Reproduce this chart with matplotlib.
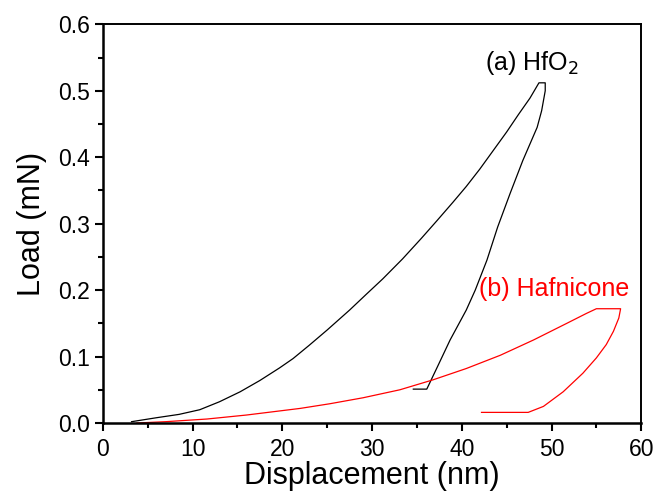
import numpy as np
import matplotlib
matplotlib.use('Agg')
import matplotlib.pyplot as plt
from matplotlib.ticker import MultipleLocator, FormatStrFormatter

plt.rcParams['font.family'] = ['Liberation Sans', 'DejaVu Sans']

# (a) HfO2 load-unload curve, displacement (nm) vs load (mN)
hfo2_x = [3.2, 6.0, 8.5, 10.8, 13.0, 15.3, 17.5, 19.7, 21.2, 23.0, 25.0, 27.5, 29.3,
          31.2, 33.4, 35.5, 37.2, 39.0, 40.5, 42.0, 43.5, 45.0, 46.3, 47.6, 48.6, 49.3,
          49.3, 48.9, 48.4, 47.6, 46.8, 45.4, 44.0, 42.8, 41.5, 40.5, 38.7, 37.3, 36.1, 34.6]
hfo2_y = [0.002, 0.008, 0.013, 0.020, 0.032, 0.047, 0.064, 0.083, 0.097, 0.117, 0.140, 0.170, 0.193,
          0.217, 0.247, 0.278, 0.304, 0.332, 0.356, 0.382, 0.410, 0.438, 0.464, 0.489, 0.512, 0.512,
          0.500, 0.470, 0.445, 0.420, 0.395, 0.346, 0.295, 0.245, 0.200, 0.170, 0.125, 0.085, 0.051, 0.051]

# (b) Hafnicone load-unload curve
hafn_x = [3.8, 7.0, 11.6, 16.0, 22.0, 25.3, 29.0, 33.1, 36.8, 40.5, 44.3, 48.0, 51.7, 53.9, 55.0, 57.7,
          57.5, 56.9, 56.1, 55.0, 53.5, 51.3, 49.1, 47.4, 42.2]
hafn_y = [0.000, 0.002, 0.006, 0.012, 0.022, 0.029, 0.038, 0.050, 0.065, 0.082, 0.102, 0.125, 0.150, 0.165, 0.172, 0.172,
          0.158, 0.138, 0.118, 0.098, 0.075, 0.047, 0.025, 0.016, 0.016]

fig = plt.figure(figsize=(6.55, 4.94), dpi=100)
ax = fig.add_axes([0.157, 0.1437, 0.822, 0.807])

ax.plot(hfo2_x, hfo2_y, color='black', lw=0.9)
ax.plot(hafn_x, hafn_y, color='red', lw=0.9)

ax.set_xlim(0, 60)
ax.set_ylim(0, 0.6)
ax.xaxis.set_major_locator(MultipleLocator(10))
ax.xaxis.set_minor_locator(MultipleLocator(5))
ax.yaxis.set_major_locator(MultipleLocator(0.1))
ax.yaxis.set_minor_locator(MultipleLocator(0.05))
ax.yaxis.set_major_formatter(FormatStrFormatter('%.1f'))

for s in ['left', 'bottom']:
    ax.spines[s].set_linewidth(1.8)
for s in ['top', 'right']:
    ax.spines[s].set_linewidth(1.4)
ax.tick_params(which='major', direction='out', length=6, width=1.5, labelsize=16.5)
ax.tick_params(which='minor', direction='out', length=3.5, width=1.5)
ax.tick_params(axis='x', pad=5)

ax.set_xlabel('Displacement (nm)', fontsize=22, labelpad=0)
ax.set_ylabel('Load (mN)', fontsize=22, labelpad=8)

ax.text(42.6, 0.532, '(a) HfO$_2$', fontsize=18, color='black')
ax.text(41.9, 0.191, '(b) Hafnicone', fontsize=18, color='red')

fig.savefig('out.png', dpi=100)
